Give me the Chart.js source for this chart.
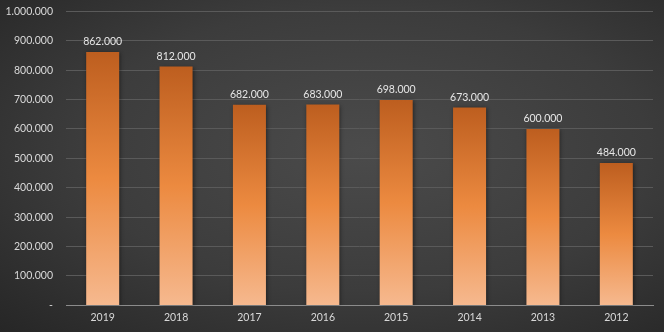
<!DOCTYPE html>
<html>
<head>
<meta charset="utf-8">
<script src="https://cdn.jsdelivr.net/npm/chart.js@4"></script>
<style>
    html, body { margin: 0; padding: 0; }
    body {
        width: 664px; height: 332px; overflow: hidden;
        background: radial-gradient(ellipse at 55% 45%, #4b4b4b 0%, #3c3c3c 55%, #262626 100%);
    }
    #wrap { position: relative; top: -8px; width: 664px; height: 338px; }
</style>
</head>
<body>
<div id="wrap"><canvas id="bar-chart"></canvas></div>
<script>
const years = ['2019', '2018', '2017', '2016', '2015', '2014', '2013', '2012'];
const values = [862000, 812000, 682000, 683000, 698000, 673000, 600000, 484000];
const yMax = 1000000;
const yStep = 100000;

const fmt = v => v === 0 ? '-' : v.toLocaleString('de-DE');

// per-bar gradient, dark orange on top to peach at the base
function barColor(ctx) {
    const chart = ctx.chart;
    if (!chart.chartArea || ctx.parsed == null) return '#e07b35';
    const y = chart.scales.y;
    const top = y.getPixelForValue(ctx.parsed.y);
    const base = y.getPixelForValue(0);
    const g = chart.ctx.createLinearGradient(0, top, 0, base);
    g.addColorStop(0, '#bd5e1f');
    g.addColorStop(0.5, '#ec8a40');
    g.addColorStop(1, '#f6b98f');
    return g;
}

const labelsPlugin = {
    id: 'valueLabels',
    beforeDatasetsDraw(chart) {
        const c = chart.ctx;
        c.save();
        c.shadowColor = 'rgba(0,0,0,0.45)';
        c.shadowBlur = 4;
        c.shadowOffsetX = 1;
        c.shadowOffsetY = 1;
    },
    afterDatasetsDraw(chart) {
        const c = chart.ctx;
        c.restore();
        c.save();
        c.font = '10.5px Lato';
        c.fillStyle = '#e6e6e6';
        c.textAlign = 'center';
        c.textBaseline = 'bottom';
        chart.getDatasetMeta(0).data.forEach((bar, i) => {
            c.fillText(fmt(values[i]), bar.x, bar.y - 5);
        });
        c.restore();
    }
};

new Chart(document.getElementById('bar-chart').getContext('2d'), {
    type: 'bar',
    data: {
        labels: years,
        datasets: [{
            data: values,
            backgroundColor: barColor,
            borderWidth: 0,
            barPercentage: 0.45,
            categoryPercentage: 1
        }]
    },
    options: {
        responsive: true,
        maintainAspectRatio: false,
        animation: false,
        layout: { padding: { top: 0, right: 11, bottom: 0, left: 0 } },
        plugins: { legend: { display: false }, tooltip: { enabled: false } },
        scales: {
            x: {
                grid: { display: false, drawTicks: false },
                border: { color: '#8c8c8c', width: 1 },
                ticks: { color: '#d9d9d9', font: { family: 'Lato', size: 10.5 }, padding: 6 }
            },
            y: {
                min: 0,
                max: yMax,
                afterFit: s => { s.width = 66; },
                grid: { color: '#5a5a5a', drawTicks: false },
                border: { display: false },
                ticks: {
                    stepSize: yStep,
                    color: '#d9d9d9',
                    font: { family: 'Lato', size: 10.5 },
                    padding: 13,
                    callback: v => fmt(v)
                }
            }
        }
    },
    plugins: [labelsPlugin]
});
</script>
</body>
</html>
